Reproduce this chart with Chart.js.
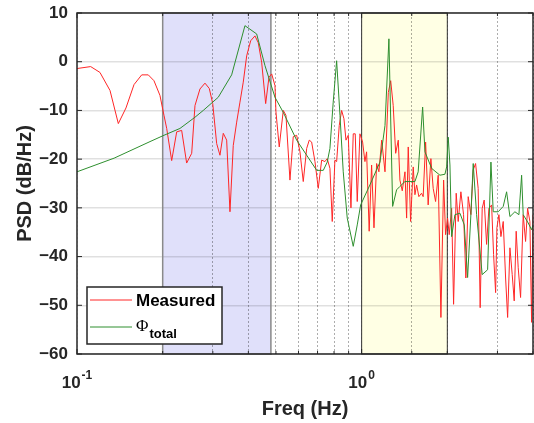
<!DOCTYPE html>
<html lang="en">
<head>
  <meta charset="UTF-8">
  <title>PSD - Measured vs total</title>
  <style>
    html, body { margin: 0; padding: 0; background: #ffffff; }
    #wrap { width: 534px; height: 423px; }
  </style>
</head>
<body>
  <div id="wrap"><canvas id="psdChart" width="534" height="423"></canvas></div>

  <script src="https://cdn.jsdelivr.net/npm/chart.js"></script>
  <script>
    // measured PSD
    const measuredFreq = [0.1, 0.1117, 0.1204, 0.1306, 0.1397, 0.1486, 0.1586, 0.1688, 0.178, 0.1864,
      0.1956, 0.2021, 0.2066, 0.2151, 0.224, 0.2332, 0.2428, 0.2529, 0.2597, 0.2704,
      0.2816, 0.2916, 0.2998, 0.3095, 0.3179, 0.3265, 0.3356, 0.3447, 0.354, 0.3639,
      0.3737, 0.3838, 0.3946, 0.4075, 0.4219, 0.4333, 0.4454, 0.4601, 0.4725, 0.483,
      0.4961, 0.5, 0.5135, 0.5305, 0.5422, 0.56, 0.5751, 0.5912, 0.6072, 0.6236,
      0.6411, 0.6546, 0.6674, 0.6855, 0.7041, 0.7236, 0.7431, 0.7571, 0.7738, 0.7884,
      0.8057, 0.8169, 0.8343, 0.8506, 0.8666, 0.881, 0.8974, 0.9172, 0.9344, 0.9496,
      0.9651, 0.9863, 1.008, 1.027, 1.041, 1.063, 1.084, 1.105, 1.129, 1.15,
      1.176, 1.208, 1.241, 1.265, 1.291, 1.317, 1.345, 1.363, 1.389, 1.42,
      1.439, 1.458, 1.486, 1.518, 1.539, 1.56, 1.589, 1.624, 1.645, 1.678,
      1.713, 1.751, 1.784, 1.819, 1.858, 1.899, 1.941, 1.972, 2.004, 2.031,
      2.071, 2.104, 2.149, 2.184, 2.232, 2.281, 2.324, 2.368, 2.42, 2.466,
      2.514, 2.567, 2.609, 2.652, 2.695, 2.748, 2.8, 2.862, 2.908, 2.956,
      2.987, 3.036, 3.086, 3.144, 3.205, 3.258, 3.319, 3.381, 3.436, 3.491,
      3.549, 3.618, 3.695, 3.767, 3.829, 3.901, 3.955, 4.0];
    const measuredPsd = [-1.4, -1.0, -2.2, -5.9, -12.7, -9.5, -4.7, -2.7, -2.7, -3.9,
      -6.9, -11.0, -13.7, -20.3, -14.4, -14.1, -20.8, -18.8, -9.0, -5.6,
      -4.4, -5.5, -8.6, -16.8, -19.2, -14.7, -16.1, -30.8, -17.2, -12.4,
      -8.3, -4.2, 1.2, 4.3, 5.3, 3.9, -0.1, -8.6, -3.2, -2.5,
      -4.9, -10.3, -17.5, -10.0, -11.0, -24.3, -15.4, -15.1, -18.5, -24.6,
      -17.8, -16.1, -16.5, -20.5, -26.0, -20.2, -20.5, -19.9, -21.9, -32.8,
      -20.2, -20.5, -13.1, -10.0, -11.7, -16.1, -15.1, -30.0, -14.8, -14.8,
      -28.7, -14.8, -16.5, -20.5, -18.5, -34.8, -21.2, -34.1, -20.9, -22.6,
      -16.1, -22.6, -6.3, -3.9, -9.0, -18.8, -16.1, -24.3, -26.5, -22.6,
      -32.1, -17.5, -32.8, -21.6, -27.3, -25.3, -27.7, -27.0, -27.7, -16.5,
      -29.4, -19.9, -26.0, -28.7, -23.3, -52.5, -24.3, -35.5, -32.1, -35.5,
      -30.1, -49.8, -27.0, -32.8, -26.7, -31.4, -44.4, -27.7, -31.4, -22.2,
      -20.9, -26.0, -50.5, -30.1, -28.4, -37.5, -30.1, -29.4, -39.6, -47.4,
      -34.1, -31.4, -35.9, -32.8, -44.4, -52.5, -38.2, -43.7, -49.1, -34.8,
      -42.3, -48.4, -31.4, -36.9, -30.1, -32.8, -53.5, -31.4];

    // model PSD (Phi_total)
    const totalFreq = [0.1, 0.135, 0.1805, 0.2021, 0.23, 0.2597, 0.2777, 0.3135, 0.3494, 0.3891, 0.4277,
      0.4575, 0.4961, 0.5305, 0.5912, 0.6411, 0.6951, 0.7333, 0.7571, 0.7738, 0.7946,
      0.8169, 0.8393, 0.8618, 0.8901, 0.9344, 0.9651, 0.992, 1.069, 1.16, 1.208,
      1.247, 1.285, 1.327, 1.363, 1.42, 1.539, 1.58, 1.638, 1.669, 1.762,
      1.884, 1.962, 1.989, 2.015, 2.043, 2.071, 2.127, 2.215, 2.294, 2.357,
      2.42, 2.466, 2.535, 2.652, 2.771, 2.846, 2.9, 3.019, 3.144, 3.231,
      3.319, 3.455, 3.569, 3.648, 3.695, 3.848, 3.955, 4.0];
    const totalPsd = [-22.6, -19.8, -16.4, -15.1, -13.7, -11.4, -10.0, -7.3, -2.7, 7.4, 5.7,
      -0.8, -7.3, -10.4, -16.1, -19.2, -22.3, -22.3, -20.6, -17.8, -8.3,
      0.2, -11.0, -22.6, -32.1, -37.9, -33.5, -29.4, -25.3, -20.6, -13.1,
      4.7, -29.7, -26.3, -25.6, -24.6, -24.6, -22.6, -9.3, -18.5, -21.9,
      -23.3, -23.1, -21.6, -15.5, -21.2, -35.9, -31.4, -31.1, -33.5, -44.3,
      -31.4, -20.9, -31.4, -43.7, -42.7, -20.6, -30.8, -30.8, -29.7, -26.7,
      -31.8, -30.8, -31.4, -23.3, -31.4, -33.1, -34.5, -33.5];

    // shaded frequency bands (Hz)
    const lowBand = [0.2, 0.48];
    const highBand = [1.0, 2.0];
    const xLabelTicks = [0.1, 1];

    const FONT = '"Liberation Sans", Arial, Helvetica, sans-serif';
    const INK = '#262626';

    function toPoints(xs, ys) {
      return xs.map((f, i) => ({ x: f, y: ys[i] }));
    }

    function isDecade(v) {
      const l = Math.log10(v);
      return Math.abs(l - Math.round(l)) < 1e-6;
    }

    const decorations = {
      id: 'decorations',
      beforeDraw(chart) {
        const { ctx, chartArea: a, scales: { x } } = chart;
        ctx.save();
        ctx.fillStyle = 'rgb(224,224,250)';
        let x0 = x.getPixelForValue(lowBand[0]), x1 = x.getPixelForValue(lowBand[1]);
        ctx.fillRect(x0, a.top, x1 - x0, a.bottom - a.top);
        ctx.fillStyle = 'rgb(255,255,228)';
        x0 = x.getPixelForValue(highBand[0]); x1 = x.getPixelForValue(highBand[1]);
        ctx.fillRect(x0, a.top, x1 - x0, a.bottom - a.top);
        ctx.restore();
      },
      beforeDatasetsDraw(chart) {
        const { ctx, chartArea: a, scales: { x } } = chart;
        ctx.save();
        ctx.lineWidth = 1.5;
        ctx.strokeStyle = '#8a8a8a';
        ctx.strokeRect(x.getPixelForValue(lowBand[0]), a.top,
          x.getPixelForValue(lowBand[1]) - x.getPixelForValue(lowBand[0]), a.bottom - a.top);
        ctx.lineWidth = 1;
        ctx.strokeStyle = '#333333';
        ctx.strokeRect(x.getPixelForValue(highBand[0]), a.top,
          x.getPixelForValue(highBand[1]) - x.getPixelForValue(highBand[0]), a.bottom - a.top);
        ctx.restore();
      },
      afterDraw(chart) {
        const { ctx, chartArea: a, scales: { x, y } } = chart;
        ctx.save();

        // box + inward ticks
        ctx.strokeStyle = INK;
        ctx.lineWidth = 1.5;
        ctx.strokeRect(a.left, a.top, a.right - a.left, a.bottom - a.top);
        ctx.lineWidth = 1;
        ctx.beginPath();
        y.ticks.forEach(t => {
          const py = y.getPixelForValue(t.value);
          ctx.moveTo(a.left, py); ctx.lineTo(a.left + 5, py);
          ctx.moveTo(a.right, py); ctx.lineTo(a.right - 5, py);
        });
        x.ticks.forEach(t => {
          const px = x.getPixelForValue(t.value);
          const len = isDecade(t.value) ? 5 : 3;
          ctx.moveTo(px, a.bottom); ctx.lineTo(px, a.bottom - len);
          ctx.moveTo(px, a.top); ctx.lineTo(px, a.top + len);
        });
        ctx.stroke();

        // x tick labels as powers of ten
        ctx.fillStyle = INK;
        ctx.textBaseline = 'alphabetic';
        ctx.textAlign = 'left';
        xLabelTicks.forEach(v => {
          const px = x.getPixelForValue(v);
          const exp = String(Math.round(Math.log10(v)));
          ctx.font = 'bold 17px ' + FONT;
          const wb = ctx.measureText('10').width;
          ctx.font = 'bold 12px ' + FONT;
          const we = ctx.measureText(exp).width;
          const start = px - (wb + we + 1) / 2;
          ctx.font = 'bold 17px ' + FONT;
          ctx.fillText('10', start, a.bottom + 34);
          ctx.font = 'bold 12px ' + FONT;
          ctx.fillText(exp, start + wb + 1, a.bottom + 25);
        });

        // axis titles
        ctx.font = 'bold 20px ' + FONT;
        ctx.textAlign = 'center';
        ctx.fillText('Freq (Hz)', (a.left + a.right) / 2, 415);
        ctx.save();
        ctx.translate(31, (a.top + a.bottom) / 2);
        ctx.rotate(-Math.PI / 2);
        ctx.fillText('PSD (dB/Hz)', 0, 0);
        ctx.restore();

        // legend
        const lx = a.left + 10, ly = 287, lw = 135, lh = 57;
        ctx.fillStyle = '#ffffff';
        ctx.fillRect(lx, ly, lw, lh);
        ctx.strokeStyle = INK;
        ctx.lineWidth = 1.5;
        ctx.strokeRect(lx, ly, lw, lh);
        const ds = chart.data.datasets;
        const rows = [ly + 13, ly + 40];
        ds.forEach((d, i) => {
          ctx.strokeStyle = d.borderColor;
          ctx.lineWidth = 1;
          ctx.beginPath();
          ctx.moveTo(lx + 3, rows[i]);
          ctx.lineTo(lx + 45, rows[i]);
          ctx.stroke();
        });
        ctx.fillStyle = '#000000';
        ctx.textAlign = 'left';
        ctx.font = 'bold 17px ' + FONT;
        ctx.fillText(ds[0].label, lx + 49, rows[0] + 6);
        ctx.font = '17px "Liberation Serif", "Times New Roman", serif';
        ctx.fillText('\u03A6', lx + 49, rows[1] + 4);
        const wPhi = ctx.measureText('\u03A6').width;
        ctx.font = 'bold 13px ' + FONT;
        ctx.fillText('total', lx + 50 + wPhi, rows[1] + 11);

        ctx.restore();
      }
    };

    window.onload = function () {
      const ctx = document.getElementById('psdChart').getContext('2d');
      new Chart(ctx, {
        type: 'line',
        data: {
          datasets: [
            {
              label: 'Measured',
              data: toPoints(measuredFreq, measuredPsd),
              borderColor: '#ff2626',
              borderWidth: 1,
              pointRadius: 0,
              tension: 0,
              order: 2
            },
            {
              label: '\u03A6total',
              data: toPoints(totalFreq, totalPsd),
              borderColor: '#2e8f2e',
              borderWidth: 1,
              pointRadius: 0,
              tension: 0,
              order: 1
            }
          ]
        },
        options: {
          responsive: false,
          animation: false,
          layout: { padding: { top: 13, right: 1, left: 0, bottom: 0 } },
          plugins: {
            legend: { display: false },
            tooltip: { enabled: false }
          },
          scales: {
            x: {
              type: 'logarithmic',
              min: 0.1,
              max: 4,
              ticks: { display: false },
              border: { display: false, dash: [2, 2] },
              grid: {
                drawTicks: false,
                lineWidth: 1,
                color: c => isDecade(c.tick.value) ? 'rgba(0,0,0,0.12)' : 'rgba(0,0,0,0.32)'
              },
              afterFit: s => { s.height = 69; s.paddingLeft = 0; s.paddingRight = 0; }
            },
            y: {
              min: -60,
              max: 10,
              ticks: {
                stepSize: 10,
                padding: 9,
                color: INK,
                font: { family: FONT, size: 17, weight: 'bold' },
                callback: v => v < 0 ? '\u2212' + Math.abs(v) : String(v)
              },
              border: { display: false },
              grid: { drawTicks: false, lineWidth: 1.5, color: 'rgba(0,0,0,0.12)' },
              afterFit: s => { s.width = 77; s.paddingTop = 0; s.paddingBottom = 0; }
            }
          }
        },
        plugins: [decorations]
      });
    };
  </script>
</body>
</html>
